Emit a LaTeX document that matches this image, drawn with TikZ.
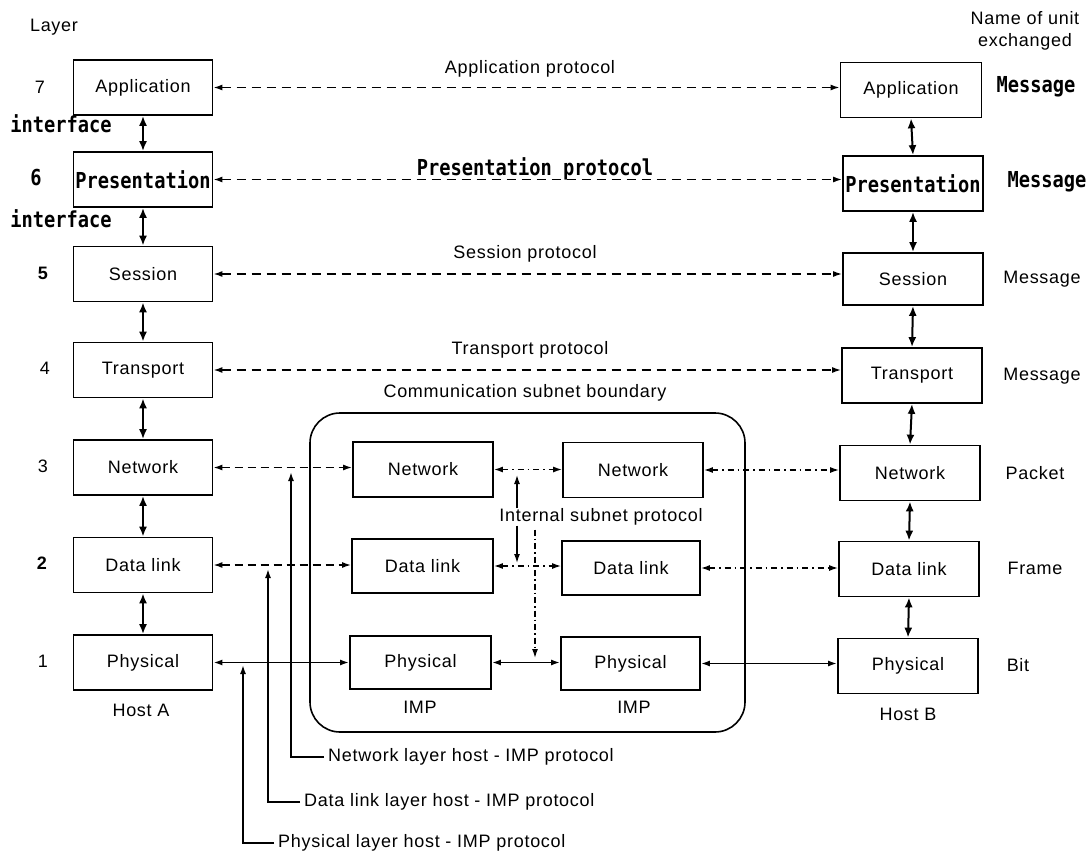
\documentclass[tikz,border=0pt]{standalone}
\usepackage{fontspec}
\setmainfont{Liberation Sans}[LetterSpace=4]
\newfontfamily\dotfont{DejaVu Sans Mono}[FakeStretch=0.85]
\usetikzlibrary{arrows.meta}
\begin{document}
\begin{tikzpicture}[x=1pt,y=-1pt,
  box/.style={draw, line width=1.7pt, minimum width=139pt, minimum height=55pt, inner sep=0pt, font=\fontsize{18}{20}\selectfont},
  lbl/.style={inner sep=0pt, font=\fontsize{18}{20}\selectfont},
  dotlbl/.style={inner sep=0pt, font=\dotfont\bfseries\fontsize{22}{24}\selectfont},
  tip/.tip={Latex[length=9pt,width=6pt]},
  proto/.style={line width=1.6pt, dash pattern=on 9pt off 6pt, tip-tip},
  dashdot/.style={line width=1.5pt, dash pattern=on 6pt off 4pt on 1.5pt off 4pt, tip-tip},
  solidarr/.style={line width=1.8pt, tip-tip},
  updown/.style={line width=2pt, {Latex[length=10pt,width=8pt]}-{Latex[length=10pt,width=8pt]}},
  callout/.style={line width=1.6pt, -tip},
  thinarr/.style={line width=1.3pt, -tip}
]
\useasboundingbox (0,0) rectangle (1089,853);

% header texts
\node[lbl] (layer) at (54,27) {Layer};
\node[lbl, align=center, font=\fontsize{18}{22}\selectfont] (unitname) at (1025,31) {Name of unit\\exchanged};

% Host A column
\node[box] (A7) at (143,87.5) {Application};
\node[box, font=\dotfont\bfseries\fontsize{22}{24}\selectfont] (A6) at (143,179.5) {Presentation};
\node[box] (A5) at (143,274) {Session};
\node[box] (A4) at (143,370) {Transport};
\node[box] (A3) at (143,467.5) {Network};
\node[box] (A2) at (143,565) {Data link};
\node[box] (A1) at (143,662.5) {Physical};
\node[lbl] (hostA) at (141,710) {Host A};

% layer numbers
\node[lbl] (n7) at (40,87) {7};
\node[dotlbl] (n6) at (36,178) {6};
\node[lbl, font=\bfseries\fontsize{18}{20}\selectfont] (n5) at (43,273) {5};
\node[lbl] (n4) at (45,368) {4};
\node[lbl] (n3) at (43,466) {3};
\node[lbl, font=\bfseries\fontsize{18}{20}\selectfont] (n2) at (42,563) {2};
\node[lbl] (n1) at (43,661) {1};
\node[dotlbl] (if1) at (61,124) {interface};
\node[dotlbl] (if2) at (61,219) {interface};

% Host B column
\node[box, minimum width=141pt] (B7) at (911,90) {Application};
\node[box, minimum width=140pt, font=\dotfont\bfseries\fontsize{22}{24}\selectfont] (B6) at (913,183.5) {Presentation};
\node[box, minimum width=140pt, minimum height=52pt] (B5) at (913,279) {Session};
\node[box, minimum width=140pt] (B4) at (912,375.5) {Transport};
\node[box, minimum width=140pt] (B3) at (910,473) {Network};
\node[box, minimum width=140pt] (B2) at (909,569) {Data link};
\node[box, minimum width=140pt] (B1) at (908,666) {Physical};
\node[lbl] (hostB) at (908,714) {Host B};

% unit names
\node[dotlbl] (u7) at (1036,87) {Message};
\node[dotlbl] (u6) at (1047,182) {Message};
\node[lbl] (u5) at (1042,279) {Message};
\node[lbl] (u4) at (1042,376) {Message};
\node[lbl] (u3) at (1035,473) {Packet};
\node[lbl] (u2) at (1035,568) {Frame};
\node[lbl] (u1) at (1018,665) {Bit};

% subnet
\node[draw, line width=1.6pt, rounded corners=30pt, minimum width=435pt, minimum height=319pt, inner sep=0pt] (subnet) at (527.5,572.5) {};
\node[lbl] (subnetlbl) at (525,393) {Communication subnet boundary};
\node[box, minimum width=140pt] (C3) at (423,469.5) {Network};
\node[box, minimum width=141pt, minimum height=54pt] (C2) at (422.5,566) {Data link};
\node[box, minimum width=141pt, minimum height=53pt] (C1) at (420.5,662.5) {Physical};
\node[box, minimum width=140pt] (D3) at (633,470) {Network};
\node[box, minimum width=138pt, minimum height=54pt] (D2) at (631,568) {Data link};
\node[box, minimum width=139pt, minimum height=53pt] (D1) at (630.5,663.5) {Physical};
\node[lbl] (imp1) at (420,707) {IMP};
\node[lbl] (imp2) at (634,707) {IMP};
\node[lbl] (isp) at (601,517) {Internal subnet protocol};

% vertical interfaces
\foreach \a/\b in {A7/A6,A6/A5,A5/A4,A4/A3,A3/A2,A2/A1,B7/B6,B6/B5,B5/B4,B4/B3,B3/B2,B2/B1}
  \draw[updown] (\a.south) -- (\b.north);

% peer protocols
\draw[proto] (A7.east) -- (A7.east -| B7.west);
\node[lbl] (p7) at (530,69) {Application protocol};
\draw[proto] (A6.east) -- (A6.east -| B6.west);
\node[dotlbl, anchor=base] (p6) at (535,176) {Presentation protocol};
\draw[proto] (A5.east) -- (A5.east -| B5.west);
\node[lbl] (p5) at (525,254) {Session protocol};
\draw[proto] (A4.east) -- (A4.east -| B4.west);
\node[lbl] (p4) at (530,350) {Transport protocol};

% host - IMP
\draw[proto, dash pattern=on 8pt off 5pt] (A3.east) -- (A3.east -| C3.west);
\draw[proto, dash pattern=on 8pt off 5pt] (A2.east) -- (A2.east -| C2.west);
\draw[solidarr] (A1.east) -- (A1.east -| C1.west);
\draw[dashdot] (D3.east) -- (D3.east -| B3.west);
\draw[dashdot] (D2.east) -- (D2.east -| B2.west);
\draw[solidarr] (D1.east) -- (D1.east -| B1.west);

% IMP - IMP
\draw[dashdot] (C3.east) -- (C3.east -| D3.west);
\draw[dashdot] (C2.east) -- (C2.east -| D2.west);
\draw[solidarr] (C1.east) -- (C1.east -| D1.west);

% internal subnet protocol pointers
\coordinate (i3) at (517,475);
\coordinate (i2) at (517,563);
\coordinate (i1) at (535,658);
\draw[thinarr] (isp.north -| i3) -- (i3);
\draw[thinarr] (isp.south -| i2) -- (i2);
\draw[thinarr, dash pattern=on 6pt off 3pt on 1.5pt off 3pt] ([yshift=-4pt]isp.south -| i1) -- (i1);

% callouts
\node[lbl, anchor=west] (c3) at (328,757) {Network layer host - IMP protocol};
\node[lbl, anchor=west] (c2) at (304,802) {Data link layer host - IMP protocol};
\node[lbl, anchor=west] (c1) at (278,843) {Physical layer host - IMP protocol};
\coordinate (t3) at (291,472);
\coordinate (t2) at (268,569);
\coordinate (t1) at (243,665);
\draw[callout] ([xshift=-4pt]c3.west) -| (t3);
\draw[callout] ([xshift=-4pt]c2.west) -| (t2);
\draw[callout] ([xshift=-4pt]c1.west) -| (t1);
\end{tikzpicture}
\end{document}
